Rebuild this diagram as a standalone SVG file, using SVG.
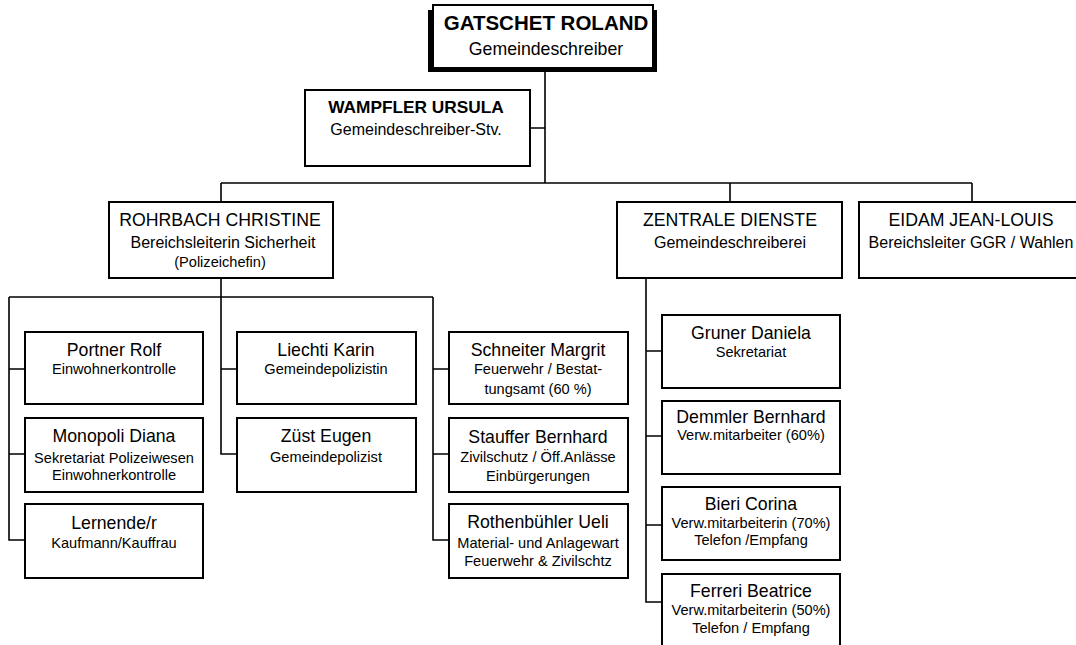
<svg xmlns="http://www.w3.org/2000/svg" width="1076" height="645" viewBox="0 0 1076 645">
<style>
.box{fill:#fff;stroke:#000;stroke-width:2}
.ln{fill:none;stroke:#000;stroke-width:1.6}
text{font-family:"Liberation Sans",Arial,sans-serif;fill:#000;text-anchor:middle}
.tb{font-size:20.5px;font-weight:bold}
.tb2{font-size:17.3px;font-weight:bold}
.t{font-size:17.7px}
.s{font-size:16px}
.ss{font-size:14.6px}
</style>
<rect width="1076" height="645" fill="#fff"/>
<g id="connectors">
<path class="ln" d="M545 68V183M530 128H545M221 183H972M221 183V202M730 183V202M972 183V202"/>
<path class="ln" d="M221 278V297M9 297H433M9 297V540H25M9 369H25M9 454H25M221 297V454H237M221 369H237M433 297V540H449M433 369H449M433 454H449"/>
<path class="ln" d="M646 278V602H662M646 351H662M646 436H662M646 525H662"/>
</g>
<g id="gatschet">
<rect x="428" y="10" width="229" height="62" fill="#000"/>
<rect class="box" x="433" y="5" width="220" height="63"/>
<text class="tb" x="546" y="30">GATSCHET ROLAND</text>
<text class="t" x="546" y="55">Gemeindeschreiber</text>
</g>
<g id="wampfler">
<rect class="box" x="305" y="90" width="225" height="76"/>
<text class="tb2" x="416" y="113">WAMPFLER URSULA</text>
<text class="s" x="416" y="135">Gemeindeschreiber-Stv.</text>
</g>
<g id="rohrbach">
<rect class="box" x="109" y="202" width="224" height="76"/>
<text class="t" x="220" y="226">ROHRBACH CHRISTINE</text>
<text class="s" x="223" y="248">Bereichsleiterin Sicherheit</text>
<text class="ss" x="220" y="267">(Polizeichefin)</text>
</g>
<g id="zentrale">
<rect class="box" x="617" y="202" width="225" height="76"/>
<text class="t" x="730" y="226">ZENTRALE DIENSTE</text>
<text class="s" x="730" y="248">Gemeindeschreiberei</text>
</g>
<g id="eidam">
<rect class="box" x="859" y="202" width="226" height="76"/>
<text class="t" x="971" y="226">EIDAM JEAN-LOUIS</text>
<text class="s" x="971" y="248">Bereichsleiter GGR / Wahlen</text>
</g>
<g id="portner">
<rect class="box" x="25" y="332" width="178" height="72"/>
<text class="t" x="114" y="356">Portner Rolf</text>
<text class="ss" x="114" y="374">Einwohnerkontrolle</text>
</g>
<g id="monopoli">
<rect class="box" x="25" y="418" width="178" height="74"/>
<text class="t" x="114" y="442">Monopoli Diana</text>
<text class="ss" x="114" y="463">Sekretariat Polizeiwesen</text>
<text class="ss" x="114" y="480">Einwohnerkontrolle</text>
</g>
<g id="lernende">
<rect class="box" x="25" y="504" width="178" height="74"/>
<text class="t" x="114" y="529">Lernende/r</text>
<text class="ss" x="114" y="548">Kaufmann/Kauffrau</text>
</g>
<g id="liechti">
<rect class="box" x="237" y="332" width="179" height="72"/>
<text class="t" x="326" y="356">Liechti Karin</text>
<text class="ss" x="326" y="374">Gemeindepolizistin</text>
</g>
<g id="zuest">
<rect class="box" x="237" y="418" width="179" height="74"/>
<text class="t" x="326" y="442">Züst Eugen</text>
<text class="ss" x="326" y="462">Gemeindepolizist</text>
</g>
<g id="schneiter">
<rect class="box" x="449" y="332" width="179" height="72"/>
<text class="t" x="538" y="356">Schneiter Margrit</text>
<text class="ss" x="538" y="374">Feuerwehr / Bestat-</text>
<text class="ss" x="538" y="394">tungsamt (60 %)</text>
</g>
<g id="stauffer">
<rect class="box" x="449" y="418" width="179" height="74"/>
<text class="t" x="538" y="443">Stauffer Bernhard</text>
<text class="ss" x="538" y="462">Zivilschutz / Öff.Anlässe</text>
<text class="ss" x="538" y="481">Einbürgerungen</text>
</g>
<g id="rothenbuehler">
<rect class="box" x="449" y="504" width="179" height="74"/>
<text class="t" x="538" y="528">Rothenbühler Ueli</text>
<text class="ss" x="538" y="548">Material- und Anlagewart</text>
<text class="ss" x="538" y="566">Feuerwehr &amp; Zivilschtz</text>
</g>
<g id="gruner">
<rect class="box" x="662" y="315" width="178" height="73"/>
<text class="t" x="751" y="339">Gruner Daniela</text>
<text class="ss" x="751" y="357">Sekretariat</text>
</g>
<g id="demmler">
<rect class="box" x="662" y="401" width="178" height="73"/>
<text class="t" x="751" y="423">Demmler Bernhard</text>
<text class="ss" x="751" y="440">Verw.mitarbeiter (60%)</text>
</g>
<g id="bieri">
<rect class="box" x="662" y="487" width="178" height="73"/>
<text class="t" x="751" y="510">Bieri Corina</text>
<text class="ss" x="751" y="528">Verw.mitarbeiterin (70%)</text>
<text class="ss" x="751" y="545">Telefon /Empfang</text>
</g>
<g id="ferreri">
<rect class="box" x="662" y="574" width="178" height="73"/>
<text class="t" x="751" y="597">Ferreri Beatrice</text>
<text class="ss" x="751" y="615">Verw.mitarbeiterin (50%)</text>
<text class="ss" x="751" y="633">Telefon / Empfang</text>
</g>
</svg>
